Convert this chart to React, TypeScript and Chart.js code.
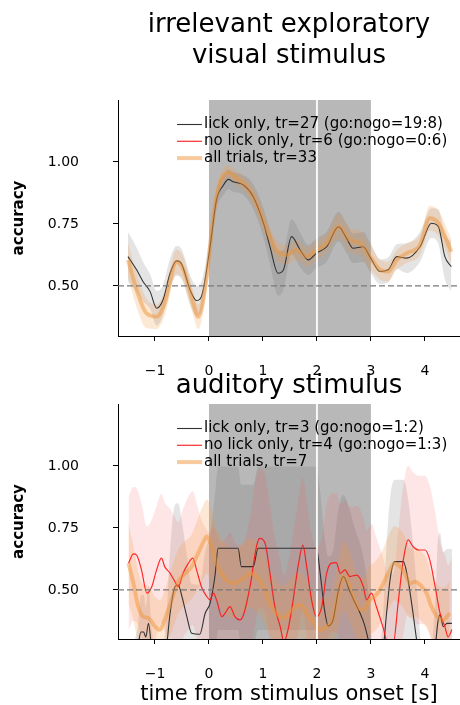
import React, { useEffect, useRef } from "react";
import { Chart, registerables } from "chart.js";

Chart.register(...registerables);

const FONT = "'DejaVu Sans', 'Liberation Sans', sans-serif";
Chart.defaults.font.family = FONT;

// ---------- axes / annotations ----------
const xTickValues = [-1, 0, 1, 2, 3, 4];
const yTickValues = [0.5, 0.75, 1.0];
const stimStart = 0;
const stimEnd = 3;
const stimMark = 2;
const chanceLevel = 0.5;
const xAxisTitle = "time from stimulus onset [s]";
const yAxisTitle = "accuracy";

// ---------- visual panel ----------
const visTitle = ["irrelevant exploratory", "visual stimulus"];
const visLegend = [
  "lick only, tr=27 (go:nogo=19:8)",
  "no lick only, tr=6 (go:nogo=0:6)",
  "all trials, tr=33",
];
const visLickT = [-1.5, -1.34, -1.22, -1.09, -0.97, -0.85, -0.72, -0.6, -0.51, -0.35, -0.23, -0.14, 0.02, 0.14, 0.27, 0.36, 0.45, 0.64, 0.82, 1.01, 1.13, 1.28, 1.38, 1.53, 1.69, 1.84, 1.99, 2.18, 2.4, 2.55, 2.67, 2.86, 2.98, 3.17, 3.32, 3.48, 3.66, 3.91, 4.12, 4.25, 4.37, 4.49];
const visLickV = [0.618, 0.565, 0.517, 0.477, 0.41, 0.444, 0.551, 0.601, 0.59, 0.484, 0.441, 0.457, 0.658, 0.847, 0.907, 0.93, 0.92, 0.907, 0.86, 0.753, 0.658, 0.551, 0.565, 0.699, 0.645, 0.605, 0.632, 0.658, 0.739, 0.692, 0.652, 0.658, 0.618, 0.558, 0.565, 0.618, 0.612, 0.658, 0.753, 0.739, 0.618, 0.578];
const visLickSem = [0.1, 0.09, 0.08, 0.07, 0.07, 0.06, 0.06, 0.06, 0.06, 0.06, 0.06, 0.06, 0.05, 0.04, 0.04, 0.04, 0.04, 0.04, 0.05, 0.06, 0.07, 0.09, 0.08, 0.07, 0.07, 0.06, 0.06, 0.06, 0.06, 0.06, 0.06, 0.06, 0.06, 0.05, 0.05, 0.05, 0.06, 0.06, 0.06, 0.07, 0.09, 0.1];
const visNoLickT: number[] = [];
const visNoLickV: number[] = [];
const visNoLickSem: number[] = [];
const visAllT = [-1.5, -1.34, -1.16, -0.97, -0.82, -0.6, -0.47, -0.29, -0.2, -0.04, 0.08, 0.2, 0.36, 0.51, 0.7, 0.88, 1.07, 1.25, 1.44, 1.62, 1.81, 1.99, 2.18, 2.4, 2.61, 2.8, 2.98, 3.17, 3.32, 3.48, 3.66, 3.91, 4.09, 4.25, 4.49];
const visAllV = [0.605, 0.484, 0.39, 0.376, 0.43, 0.597, 0.565, 0.43, 0.376, 0.538, 0.78, 0.914, 0.957, 0.934, 0.9, 0.833, 0.726, 0.645, 0.625, 0.645, 0.618, 0.645, 0.672, 0.739, 0.685, 0.672, 0.618, 0.565, 0.558, 0.605, 0.632, 0.665, 0.773, 0.753, 0.638];
const visAllSem = [0.07, 0.07, 0.06, 0.05, 0.05, 0.05, 0.05, 0.05, 0.05, 0.05, 0.04, 0.03, 0.03, 0.03, 0.03, 0.04, 0.04, 0.04, 0.04, 0.04, 0.04, 0.04, 0.04, 0.05, 0.05, 0.05, 0.05, 0.04, 0.04, 0.04, 0.04, 0.04, 0.05, 0.05, 0.05];

// ---------- auditory panel ----------
const audTitle = ["auditory stimulus"];
const audLegend = [
  "lick only, tr=3 (go:nogo=1:2)",
  "no lick only, tr=4 (go:nogo=1:3)",
  "all trials, tr=7",
];
const audLickT = [-1.5, -1.32, -1.26, -1.21, -1.17, -1.12, -1.06, -0.95, -0.8, -0.72, -0.63, -0.57, -0.5, -0.41, -0.32, -0.17, -0.07, 0.02, 0.11, 0.17, 0.54, 0.6, 0.82, 0.91, 1.99, 2.06, 2.14, 2.21, 2.3, 2.4, 2.49, 2.6, 2.7, 2.8, 2.88, 2.95, 3.05, 3.2, 3.29, 3.36, 3.44, 3.6, 3.68, 3.78, 3.86, 3.95, 4.1, 4.2, 4.24, 4.28, 4.34, 4.41, 4.5];
const audLickV = [0.2, 0.27, 0.33, 0.33, 0.31, 0.365, 0.26, 0.2, 0.25, 0.406, 0.513, 0.52, 0.473, 0.392, 0.325, 0.321, 0.406, 0.446, 0.554, 0.668, 0.668, 0.594, 0.594, 0.668, 0.668, 0.567, 0.42, 0.355, 0.38, 0.5, 0.554, 0.5, 0.45, 0.406, 0.36, 0.3, 0.2, 0.22, 0.406, 0.55, 0.614, 0.614, 0.55, 0.406, 0.28, 0.2, 0.2, 0.29, 0.37, 0.4, 0.352, 0.365, 0.365];
const audLickSem = [0.05, 0.08, 0.15, 0.15, 0.12, 0.15, 0.08, 0.05, 0.1, 0.25, 0.33, 0.33, 0.3, 0.25, 0.2, 0.2, 0.25, 0.28, 0.33, 0.33, 0.33, 0.33, 0.33, 0.33, 0.33, 0.33, 0.3, 0.28, 0.28, 0.33, 0.33, 0.33, 0.3, 0.28, 0.25, 0.2, 0.05, 0.1, 0.28, 0.33, 0.33, 0.33, 0.33, 0.28, 0.2, 0.05, 0.05, 0.2, 0.33, 0.33, 0.3, 0.3, 0.3];
const audNoLickT = [-1.49, -1.4, -1.34, -1.25, -1.15, -1.06, -0.97, -0.88, -0.82, -0.72, -0.63, -0.57, -0.48, -0.38, -0.3, -0.23, -0.14, -0.04, 0.02, 0.08, 0.14, 0.24, 0.3, 0.39, 0.48, 0.57, 0.64, 0.76, 0.88, 0.94, 1.04, 1.13, 1.22, 1.32, 1.39, 1.47, 1.56, 1.65, 1.74, 1.81, 1.9, 1.99, 2.09, 2.18, 2.27, 2.36, 2.43, 2.52, 2.61, 2.74, 2.86, 2.92, 3.01, 3.1, 3.23, 3.32, 3.41, 3.51, 3.6, 3.69, 3.78, 3.88, 4.0, 4.09, 4.19, 4.28, 4.37, 4.43, 4.5];
const audNoLickV = [0.608, 0.645, 0.64, 0.581, 0.487, 0.513, 0.581, 0.628, 0.594, 0.567, 0.533, 0.513, 0.567, 0.608, 0.628, 0.581, 0.513, 0.473, 0.46, 0.487, 0.46, 0.392, 0.406, 0.433, 0.392, 0.379, 0.4, 0.513, 0.675, 0.708, 0.688, 0.567, 0.433, 0.352, 0.29, 0.345, 0.46, 0.594, 0.681, 0.594, 0.46, 0.392, 0.433, 0.567, 0.608, 0.61, 0.567, 0.581, 0.554, 0.56, 0.513, 0.46, 0.487, 0.433, 0.345, 0.28, 0.28, 0.46, 0.621, 0.702, 0.675, 0.661, 0.661, 0.621, 0.513, 0.406, 0.352, 0.31, 0.34];
const audNoLickSem = [0.27, 0.27, 0.27, 0.27, 0.27, 0.27, 0.26, 0.26, 0.26, 0.26, 0.26, 0.26, 0.26, 0.27, 0.27, 0.27, 0.27, 0.27, 0.27, 0.27, 0.27, 0.3, 0.3, 0.3, 0.3, 0.3, 0.29, 0.28, 0.29, 0.28, 0.28, 0.28, 0.28, 0.27, 0.27, 0.27, 0.27, 0.27, 0.27, 0.27, 0.27, 0.28, 0.28, 0.28, 0.28, 0.28, 0.28, 0.28, 0.28, 0.28, 0.28, 0.28, 0.28, 0.28, 0.28, 0.28, 0.28, 0.29, 0.3, 0.3, 0.3, 0.3, 0.3, 0.3, 0.3, 0.29, 0.29, 0.29, 0.29];
const audAllT = [-1.49, -1.4, -1.31, -1.22, -1.12, -1.0, -0.91, -0.82, -0.69, -0.57, -0.44, -0.32, -0.23, -0.1, -0.04, 0.05, 0.14, 0.27, 0.45, 0.64, 0.76, 0.88, 1.01, 1.13, 1.25, 1.38, 1.53, 1.69, 1.81, 1.93, 2.06, 2.18, 2.27, 2.36, 2.49, 2.61, 2.74, 2.86, 2.98, 3.07, 3.2, 3.32, 3.44, 3.54, 3.63, 3.72, 3.82, 3.94, 4.03, 4.12, 4.25, 4.34, 4.46];
const audAllV = [0.608, 0.527, 0.433, 0.392, 0.386, 0.352, 0.339, 0.379, 0.46, 0.533, 0.567, 0.594, 0.634, 0.695, 0.715, 0.675, 0.608, 0.554, 0.527, 0.547, 0.567, 0.554, 0.513, 0.446, 0.406, 0.386, 0.419, 0.44, 0.406, 0.372, 0.339, 0.352, 0.372, 0.446, 0.554, 0.513, 0.433, 0.419, 0.46, 0.473, 0.513, 0.567, 0.608, 0.594, 0.567, 0.527, 0.533, 0.513, 0.487, 0.433, 0.386, 0.379, 0.406];
const audAllSem = [0.16, 0.15, 0.14, 0.13, 0.13, 0.12, 0.12, 0.12, 0.13, 0.13, 0.13, 0.13, 0.14, 0.15, 0.15, 0.15, 0.14, 0.14, 0.14, 0.14, 0.14, 0.14, 0.14, 0.13, 0.13, 0.13, 0.13, 0.13, 0.13, 0.12, 0.12, 0.12, 0.12, 0.13, 0.14, 0.14, 0.13, 0.13, 0.14, 0.14, 0.14, 0.15, 0.15, 0.15, 0.15, 0.14, 0.14, 0.14, 0.14, 0.13, 0.13, 0.13, 0.13];

// ---------- styles ----------
const LICK_COLOR = "#333333";
const NOLICK_COLOR = "rgba(255,20,20,0.9)";
const ALL_COLOR = "rgba(242,150,60,0.5)";
const SERIES_STYLE = [
  { color: LICK_COLOR, width: 1.1, band: "rgba(90,90,90,0.16)" },
  { color: NOLICK_COLOR, width: 1.2, band: "rgba(255,90,90,0.15)" },
  { color: ALL_COLOR, width: 4, band: "rgba(242,150,60,0.22)" },
];

type Series = { t: number[]; v: number[]; sem: number[] };
type PanelCfg = {
  top: number;
  height: number;
  padTop: number;
  xAxisHeight: number;
  yMin: number;
  yMax: number;
  title: string[];
  titleBaselines: number[];
  showXTitle: boolean;
  legend: string[];
  series: Series[];
};

const X_MIN = -1.685;
const X_MAX = 4.65;

const visualPanel: PanelCfg = {
  top: 0,
  height: 385,
  padTop: 100,
  xAxisHeight: 49,
  yMin: 0.298,
  yMax: 1.25,
  title: visTitle,
  titleBaselines: [31.5, 63],
  showXTitle: false,
  legend: visLegend,
  series: [
    { t: visLickT, v: visLickV, sem: visLickSem },
    { t: visNoLickT, v: visNoLickV, sem: visNoLickSem },
    { t: visAllT, v: visAllV, sem: visAllSem },
  ],
};

const auditoryPanel: PanelCfg = {
  top: 360,
  height: 345,
  padTop: 44,
  xAxisHeight: 66,
  yMin: 0.302,
  yMax: 1.25,
  title: audTitle,
  titleBaselines: [33],
  showXTitle: true,
  legend: audLegend,
  series: [
    { t: audLickT, v: audLickV, sem: audLickSem },
    { t: audNoLickT, v: audNoLickV, sem: audNoLickSem },
    { t: audAllT, v: audAllV, sem: audAllSem },
  ],
};

const fmtX = (v: number) => (v < 0 ? "\u2212" + Math.abs(v) : String(v));

function buildConfig(cfg: PanelCfg): any {
  const datasets: any[] = [];
  cfg.series.forEach((s, k) => {
    const st = SERIES_STYLE[k];
    const semAt = (i: number) => s.sem[i] ?? s.sem[s.sem.length - 1] ?? 0;
    datasets.push({
      data: s.t.map((x, i) => ({ x, y: s.v[i] + semAt(i) })),
      borderColor: "rgba(0,0,0,0)",
      borderWidth: 0,
      pointRadius: 0,
      fill: false,
      cubicInterpolationMode: "monotone",
      order: 20 - k * 2,
    });
    datasets.push({
      data: s.t.map((x, i) => ({ x, y: s.v[i] - semAt(i) })),
      borderColor: "rgba(0,0,0,0)",
      borderWidth: 0,
      pointRadius: 0,
      fill: "-1",
      backgroundColor: st.band,
      cubicInterpolationMode: "monotone",
      order: 19 - k * 2,
    });
  });
  cfg.series.forEach((s, k) => {
    const st = SERIES_STYLE[k];
    datasets.push({
      data: s.t.map((x, i) => ({ x, y: s.v[i] })),
      borderColor: st.color,
      borderWidth: st.width,
      pointRadius: 0,
      fill: false,
      cubicInterpolationMode: "monotone",
      order: 3 - k,
    });
  });

  const decor = {
    id: "decor",
    beforeDatasetsDraw(chart: any) {
      const { ctx, chartArea: a, scales } = chart;
      const x = scales.x;
      ctx.save();
      ctx.fillStyle = "rgba(0,0,0,0.28)";
      const x0 = x.getPixelForValue(stimStart);
      const x1 = x.getPixelForValue(stimEnd);
      ctx.fillRect(x0, a.top, x1 - x0, a.bottom - a.top);
      ctx.restore();
    },
    afterDatasetsDraw(chart: any) {
      const { ctx, chartArea: a, scales } = chart;
      const x = scales.x;
      const y = scales.y;
      ctx.save();
      // white separator
      const xm = x.getPixelForValue(stimMark);
      ctx.strokeStyle = "rgba(255,255,255,0.9)";
      ctx.lineWidth = 2;
      ctx.beginPath();
      ctx.moveTo(xm, a.top);
      ctx.lineTo(xm, a.bottom);
      ctx.stroke();
      // chance line
      const yc = y.getPixelForValue(chanceLevel);
      ctx.strokeStyle = "#7a7a7a";
      ctx.lineWidth = 1.2;
      ctx.setLineDash([6, 3]);
      ctx.beginPath();
      ctx.moveTo(a.left, yc);
      ctx.lineTo(a.right, yc);
      ctx.stroke();
      ctx.setLineDash([]);
      // legend
      ctx.font = `15px ${FONT}`;
      ctx.textBaseline = "middle";
      ctx.textAlign = "left";
      cfg.legend.forEach((label, i) => {
        const st = SERIES_STYLE[i];
        const ly = a.top + 24.5 + i * 16.8;
        ctx.strokeStyle = st.color;
        ctx.lineWidth = st.width;
        ctx.beginPath();
        ctx.moveTo(a.left + 59, ly);
        ctx.lineTo(a.left + 84, ly);
        ctx.stroke();
        ctx.fillStyle = "#000";
        ctx.fillText(label, a.left + 86, ly);
      });
      ctx.restore();
    },
    afterDraw(chart: any) {
      const { ctx, chartArea: a } = chart;
      ctx.save();
      ctx.font = `26px ${FONT}`;
      ctx.fillStyle = "#000";
      ctx.textAlign = "center";
      ctx.textBaseline = "alphabetic";
      const cx = (a.left + a.right) / 2;
      cfg.title.forEach((line, i) => ctx.fillText(line, cx, cfg.titleBaselines[i]));
      ctx.restore();
    },
  };

  return {
    type: "line",
    data: { datasets },
    plugins: [decor],
    options: {
      animation: false,
      responsive: false,
      devicePixelRatio: 1,
      events: [],
      layout: { padding: { top: cfg.padTop, left: 0, right: 0, bottom: 0 } },
      plugins: { legend: { display: false }, tooltip: { enabled: false }, title: { display: false } },
      scales: {
        x: {
          type: "linear",
          min: X_MIN,
          max: X_MAX,
          afterBuildTicks: (s: any) => {
            s.ticks = xTickValues.map((value) => ({ value }));
          },
          afterFit: (s: any) => {
            s.height = cfg.xAxisHeight;
          },
          ticks: {
            callback: (v: any) => fmtX(Number(v)),
            font: { size: 14 },
            color: "#000",
            padding: 22,
            maxRotation: 0,
            autoSkip: false,
          },
          grid: { drawOnChartArea: false, drawTicks: true, tickLength: 5, tickColor: "#000", tickWidth: 1 },
          border: { display: true, color: "#000", width: 1 },
          title: {
            display: cfg.showXTitle,
            text: xAxisTitle,
            color: "#000",
            font: { size: 21, lineHeight: 1.0 },
            padding: { top: 0, bottom: 0 },
          },
        },
        y: {
          type: "linear",
          min: cfg.yMin,
          max: cfg.yMax,
          afterBuildTicks: (s: any) => {
            s.ticks = yTickValues.map((value) => ({ value }));
          },
          afterFit: (s: any) => {
            s.width = 118;
          },
          ticks: {
            callback: (v: any) => Number(v).toFixed(2),
            font: { size: 14 },
            color: "#000",
            padding: 34,
          },
          grid: { drawOnChartArea: false, drawTicks: true, tickLength: 5, tickColor: "#000", tickWidth: 1 },
          border: { display: true, color: "#000", width: 1 },
          title: {
            display: true,
            text: yAxisTitle,
            color: "#000",
            font: { size: 15, weight: "bold" },
            padding: { top: 10, bottom: 0 },
          },
        },
      },
    },
  };
}

function Panel({ cfg }: { cfg: PanelCfg }) {
  const ref = useRef<HTMLCanvasElement>(null);
  useEffect(() => {
    const chart = new Chart(ref.current as HTMLCanvasElement, buildConfig(cfg));
    return () => chart.destroy();
  }, [cfg]);
  return (
    <canvas
      ref={ref}
      width={460}
      height={cfg.height}
      style={{ position: "absolute", left: 0, top: cfg.top, width: 460, height: cfg.height }}
    />
  );
}

export default function App() {
  return (
    <div style={{ position: "fixed", left: 0, top: 0, width: 460, height: 705, background: "#fff" }}>
      <Panel cfg={visualPanel} />
      <Panel cfg={auditoryPanel} />
    </div>
  );
}
